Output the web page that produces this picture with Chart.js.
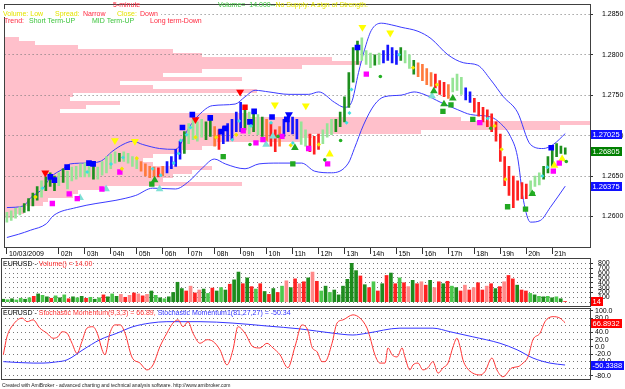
<!DOCTYPE html>
<html>
<head>
<meta charset="utf-8">
<script src="https://cdn.jsdelivr.net/npm/chart.js@4.4.1/dist/chart.umd.min.js"></script>
<style>
  html, body { margin: 0; padding: 0; background: #fff; }
  body { width: 625px; height: 389px; position: relative; overflow: hidden; font-family: "Liberation Sans", Arial, sans-serif; }
  .pane { position: absolute; left: 0; width: 625px; }
  .t { position: absolute; font-size: 7px; line-height: 8px; white-space: pre; }
  .yel { color: #e4e400; } .red { color: #ff2a40; } .grn { color: #3cc43c; }
</style>
</head>
<body>
<div class="pane" style="top:0;height:258px"><canvas id="price"></canvas></div>
<div class="pane" style="top:258px;height:50px"><canvas id="vol"></canvas></div>
<div class="pane" style="top:308px;height:81px"><canvas id="smi"></canvas></div>

<div class="t red" style="left:113px;top:1px">5-minute</div>
<div class="t grn" style="left:218px;top:1px">Volume=  14.000--<span class="yel">No Supply. A sign of Strength.</span></div>
<div style="position:absolute;left:0;top:9px;width:161px;height:8px;background:#fff"></div>
<div class="t yel" style="left:3px;top:9.5px">Volume: Low</div>
<div class="t yel" style="left:55px;top:9.5px">Spread:</div>
<div class="t red" style="left:83px;top:9.5px">Narrow</div>
<div class="t yel" style="left:117px;top:9.5px">Close:</div>
<div class="t red" style="left:140px;top:9.5px">Down</div>
<div class="t red" style="left:4px;top:16.5px">Trend:</div>
<div class="t grn" style="left:29px;top:16.5px">Short Term-UP</div>
<div class="t grn" style="left:92px;top:16.5px">MID Term-UP</div>
<div class="t red" style="left:150px;top:16.5px">Long term-Down</div>

<div class="t" style="left:3px;top:260px;color:#000">EURUSD - <span style="color:#ff3030">Volume() = 14.00</span></div>
<div class="t" style="left:3px;top:309px;color:#000">EURUSD - <span style="color:#ff3030">Stochastic Momentum(9,3,3) = 66.89, </span><span style="color:#3030ff">Stochastic Momentum1(81,27,27) = -50.34</span></div>
<div class="t" style="left:2px;top:381.5px;font-size:5px;line-height:6px;color:#222">Created with AmiBroker - advanced charting and technical analysis software. http://www.amibroker.com</div>

<script>
// time axis (hours from 00:00), 10 minute bars
const hourTicks = [0, 2, 3, 4, 5, 6, 7, 8, 9, 10, 11, 12, 13, 14, 15, 16, 17, 18, 19, 20, 21]
const hourLabels = ['10/03/2009', '02h', '03h', '04h', '05h', '06h', '07h', '08h', '09h', '10h', '11h',
  '12h', '13h', '14h', '15h', '16h', '17h', '18h', '19h', '20h', '21h']
const priceTicks = [1.26, 1.265, 1.27, 1.275, 1.28, 1.285]
const volTicks = [0, 100, 200, 300, 400, 500, 600, 700, 800]
const smiTicks = [-80, -60, -40, -20, 0, 20, 40, 60, 80, 100]

const barHigh = [
  1.2605, 1.2607, 1.2610, 1.2612, 1.2616, 1.2622, 1.2629, 1.2637, 1.2644, 1.2649,
  1.2654, 1.2650, 1.2654, 1.2659, 1.2656, 1.2661, 1.2662, 1.2665, 1.2666, 1.2663,
  1.2662, 1.2661, 1.2668, 1.2674, 1.2677, 1.2680, 1.2678, 1.2680, 1.2678, 1.2674,
  1.2673, 1.2668, 1.2665, 1.2662, 1.2661, 1.2660, 1.2662, 1.2668, 1.2674, 1.2683,
  1.2693, 1.2705, 1.2715, 1.2720, 1.2717, 1.2720, 1.2717, 1.2720, 1.2711, 1.2707,
  1.2711, 1.2715, 1.2720, 1.2729, 1.2741, 1.2732, 1.2729, 1.2727, 1.2726, 1.2723,
  1.2720, 1.2715, 1.2707, 1.2711, 1.2720, 1.2726, 1.2723, 1.2720, 1.2717, 1.2707,
  1.2702, 1.2699, 1.2702, 1.2707, 1.2715, 1.2720, 1.2720, 1.2729, 1.2748, 1.2778,
  1.2809, 1.2817, 1.2821, 1.2805, 1.2802, 1.2800, 1.2802, 1.2805, 1.2812, 1.2809,
  1.2805, 1.2809, 1.2805, 1.2800, 1.2793, 1.2790, 1.2788, 1.2783, 1.2778, 1.2776,
  1.2768, 1.2766, 1.2763, 1.2771, 1.2776, 1.2772, 1.2759, 1.2754, 1.2746, 1.2741,
  1.2735, 1.2732, 1.2727, 1.2717, 1.2702, 1.2674, 1.2662, 1.2650, 1.2644, 1.2642,
  1.2640, 1.2644, 1.2650, 1.2654, 1.2662, 1.2674, 1.2683, 1.2690, 1.2687, 1.2685
]
const barLow = [
  1.2593, 1.2595, 1.2598, 1.2602, 1.2605, 1.2607, 1.2613, 1.2620, 1.2624, 1.2632,
  1.2637, 1.2632, 1.2638, 1.2642, 1.2634, 1.2644, 1.2646, 1.2649, 1.2649, 1.2649,
  1.2646, 1.2646, 1.2651, 1.2654, 1.2659, 1.2666, 1.2668, 1.2668, 1.2666, 1.2662,
  1.2659, 1.2656, 1.2650, 1.2648, 1.2649, 1.2649, 1.2650, 1.2654, 1.2659, 1.2662,
  1.2671, 1.2678, 1.2690, 1.2695, 1.2693, 1.2698, 1.2695, 1.2699, 1.2687, 1.2683,
  1.2690, 1.2693, 1.2695, 1.2705, 1.2705, 1.2707, 1.2702, 1.2705, 1.2701, 1.2699,
  1.2693, 1.2687, 1.2680, 1.2687, 1.2699, 1.2705, 1.2702, 1.2696, 1.2689, 1.2687,
  1.2680, 1.2677, 1.2683, 1.2690, 1.2698, 1.2701, 1.2705, 1.2711, 1.2717, 1.2735,
  1.2766, 1.2788, 1.2793, 1.2788, 1.2784, 1.2787, 1.2788, 1.2790, 1.2793, 1.2790,
  1.2788, 1.2793, 1.2790, 1.2783, 1.2776, 1.2773, 1.2768, 1.2763, 1.2761, 1.2759,
  1.2751, 1.2748, 1.2746, 1.2754, 1.2756, 1.2751, 1.2744, 1.2741, 1.2729, 1.2724,
  1.2717, 1.2711, 1.2705, 1.2693, 1.2668, 1.2638, 1.2626, 1.2611, 1.2620, 1.2622,
  1.2622, 1.2626, 1.2637, 1.2639, 1.2646, 1.2654, 1.2662, 1.2674, 1.2678, 1.2677
]
// G dark green, g light green, o orange, r red, b blue
const barColor =
  'ggggGGGGgG' + 'GGgGgggggg' + 'GgggggGggg' + 'goooorobbb' + 'bGggggGGor' +
  'bbbbbGgGgG' + 'orrobbbbgg' + 'rrrgggGGGG' + 'GGgggGgbbb' + 'bGggGoooor' +
  'rrogggbbrr' + 'rrrrrrrrrr' + 'rgggGGGGGG'
const lastClose = 1.26805

const volume = [
  60, 50, 70, 45, 80, 60, 90, 120, 170, 140,
  110, 80, 130, 90, 150, 70, 110, 90, 120, 80,
  100, 60, 90, 150, 110, 170, 120, 160, 100, 140,
  190, 170, 130, 160, 230, 140, 90, 70, 110, 200,
  410, 280, 230, 330, 190, 250, 270, 180, 290, 230,
  300, 250, 370, 460, 620, 380, 500, 320, 270, 380,
  220, 160, 280, 200, 330, 440, 300, 480, 380, 420,
  500, 620, 430, 230, 330, 200, 250, 150, 330, 470,
  800, 650, 540, 360, 300, 420, 230, 380, 550, 600,
  380, 500, 400, 320, 450, 380, 420, 350, 450, 300,
  420, 380, 430, 330, 300, 230, 350, 250, 300, 400,
  250, 330, 380, 280, 320, 420, 550, 480, 350, 250,
  230, 180, 150, 120, 110, 120, 90, 110, 70, 14
]
const volColor =
  'GgGggGgrGg' + 'GrgGgrGgGr' + 'gGgrGgGprp' + 'rprpGgGgGG' + 'GGrprpGgrG' +
  'gGrGGrGrgr' + 'GrGrgpGrpr' + 'GprgGgGGGG' + 'GGrGrgrGrG' + 'rgrpGrprGp' +
  'rGrgGrprpr' + 'rprGrprrGr' + 'rgGgGgGgGr'

// bollinger bands [hour, price]
const upperBand = [[0, 1.2611], [0.64, 1.2613], [0.91, 1.2623], [1.40, 1.2635], [1.67, 1.2648], [2.17, 1.2659],
  [2.44, 1.2665], [3.05, 1.2666], [3.59, 1.2668], [4.08, 1.2681], [4.47, 1.2689], [4.85, 1.2693], [5.23, 1.2689],
  [5.88, 1.2684], [6.49, 1.2683], [7.03, 1.2711], [7.41, 1.2726], [7.91, 1.2737], [8.79, 1.2739], [9.17, 1.2748],
  [9.56, 1.2756], [10.09, 1.2754], [10.86, 1.2751], [11.62, 1.2751], [12.01, 1.2754], [12.62, 1.2741], [13.00, 1.2735],
  [13.27, 1.2741], [13.54, 1.2778], [13.77, 1.2806], [14.03, 1.2830], [14.42, 1.2839], [14.80, 1.2837], [15.18, 1.2834],
  [15.83, 1.2829], [16.33, 1.2820], [16.98, 1.2800], [17.59, 1.2790], [18.13, 1.2787], [18.63, 1.2769], [19.12, 1.2748],
  [19.66, 1.2729], [20.16, 1.2689], [20.65, 1.2684], [21.04, 1.2689], [21.50, 1.27025]]
const lowerBand = [[0, 1.2574], [0.45, 1.2578], [0.91, 1.2583], [1.52, 1.2591], [1.79, 1.2601], [2.67, 1.2611],
  [3.43, 1.2616], [4.20, 1.2620], [4.96, 1.2626], [5.61, 1.2635], [6.49, 1.2634], [7.03, 1.2644], [7.53, 1.2660],
  [7.99, 1.2671], [8.41, 1.2665], [9.17, 1.2659], [9.71, 1.2665], [10.47, 1.2666], [11.35, 1.2666], [11.85, 1.2656],
  [12.50, 1.2654], [13.15, 1.2666], [13.38, 1.2684], [13.73, 1.2713], [14.15, 1.2738], [14.53, 1.2748], [15.18, 1.2750],
  [15.68, 1.2754], [16.06, 1.2751], [16.71, 1.2741], [17.36, 1.2732], [17.86, 1.2726], [18.63, 1.2723], [19.01, 1.2715],
  [19.39, 1.2699], [19.66, 1.2674], [19.89, 1.2620], [20.16, 1.2593], [20.54, 1.2595], [20.92, 1.2611], [21.50, 1.26375]]

// volume at price profile: band centre price, band end (hours)
const profilePrice = [1.2820, 1.2815, 1.2810, 1.2805, 1.2800, 1.2795, 1.2790, 1.2785, 1.2780, 1.2775,
  1.2770, 1.2765, 1.2760, 1.2755, 1.2750, 1.2745, 1.2740, 1.2735, 1.2730, 1.2725,
  1.2720, 1.2715, 1.2710, 1.2705, 1.2700, 1.2695, 1.2690, 1.2685, 1.2680, 1.2675,
  1.2670, 1.2665, 1.2660, 1.2655, 1.2650, 1.2645, 1.2640, 1.2635, 1.2630, 1.2625,
  1.2620, 1.2615, 1.2610, 1.2605, 1.2600]
const profileEnd = [0.45, 1.10, 2.74, 6.38, 7.53, 12.50, 13.65, 11.35, 7.53, 6.00,
  9.06, 4.35, 5.61, 9.63, 2.55, 2.44, 4.35, 3.05, 2.06, 9.30,
  17.48, 22.45, 21.30, 15.95, 11.74, 11.35, 8.10, 7.53, 6.76, 5.61,
  5.23, 5.61, 7.91, 7.14, 6.38, 6.00, 9.06, 3.70, 2.74, 2.55,
  1.60, 1.40, 0.72, 0.64, 0.26]

// signal markers [hour, price]
const blueSquares = [[1.67, 1.2649], [1.83, 1.2645], [2.32, 1.2661], [3.16, 1.2666], [3.32, 1.2665], [6.76, 1.2710],
  [7.14, 1.2726], [7.83, 1.2722], [8.25, 1.2705], [8.41, 1.2709], [9.36, 1.2717], [9.52, 1.2730], [10.21, 1.2723],
  [10.78, 1.2720], [13.50, 1.2809], [20.96, 1.2685]]
const magentaSquares = [[1.75, 1.2616], [2.40, 1.2628], [2.71, 1.2622], [3.66, 1.2634], [4.35, 1.2655], [9.10, 1.2706],
  [9.59, 1.2691], [9.86, 1.2695], [10.59, 1.2699], [11.62, 1.2684], [12.35, 1.2665], [13.84, 1.2776], [18.21, 1.2716],
  [21.04, 1.2656], [21.27, 1.2666]]
const greenSquares = [[5.58, 1.2640], [8.33, 1.2674], [11.01, 1.2665], [16.79, 1.2730], [17.10, 1.2738], [17.94, 1.2720],
  [19.28, 1.2612], [19.97, 1.2609]]
const redSquares = [[9.17, 1.2735]]
const yellowDown = [[4.16, 1.2694], [4.93, 1.2693], [10.32, 1.2738], [11.51, 1.2737], [13.69, 1.2834], [14.76, 1.2827]]
const redDown = [[1.48, 1.2654], [7.26, 1.2720], [8.98, 1.2754]]
const blueDown = [[10.86, 1.2726]]
const greenUp = [[5.69, 1.2645], [11.09, 1.2685], [16.44, 1.2755], [16.83, 1.2739], [17.17, 1.2746], [20.23, 1.2628]]
const cyanUp = [[2.82, 1.2623], [3.82, 1.2634], [5.88, 1.2634], [9.98, 1.2689], [10.24, 1.2699], [16.37, 1.2749]]
const yellowUp = [[12.43, 1.2677], [21.08, 1.2663], [21.38, 1.2671]]
const cyanDots = [[1.37, 1.2635], [3.09, 1.2655], [4.01, 1.2665], [4.47, 1.2673], [5.61, 1.2659], [5.92, 1.2651],
  [6.42, 1.2666], [6.61, 1.2678], [6.69, 1.2694], [6.92, 1.2701], [7.07, 1.2710], [8.68, 1.2695], [8.94, 1.2718],
  [9.40, 1.2712], [10.17, 1.2716], [11.01, 1.2691], [13.08, 1.2716], [13.19, 1.2728], [13.27, 1.2757], [15.10, 1.2800],
  [18.51, 1.2721], [20.62, 1.2650], [20.81, 1.2661]]
const yellowDots = [[1.10, 1.2624], [4.43, 1.2659], [5.00, 1.2672], [7.26, 1.2698], [8.06, 1.2698], [8.83, 1.2701],
  [10.93, 1.2688], [12.01, 1.2689], [15.64, 1.2784], [16.56, 1.2763], [18.78, 1.2712], [19.05, 1.2683], [19.20, 1.2646]]
const greenDots = [[9.36, 1.2689], [10.44, 1.2699], [12.24, 1.2670], [12.85, 1.2694], [14.38, 1.2773], [18.63, 1.2709],
  [20.27, 1.2629], [21.54, 1.2668]]

// stochastic momentum [hour, value]
const smiFast = [[0, -22], [0.14, 28], [0.37, 61], [0.72, 80], [0.91, 70], [1.14, 75], [1.40, 52], [1.67, 38], [1.90, 24],
  [2.09, 28], [2.25, 42], [2.44, 38], [2.63, 10], [2.82, -18], [3.01, 15], [3.20, 52], [3.43, 56], [3.62, 33], [3.78, -8],
  [3.89, -22], [4.08, 38], [4.27, 61], [4.47, 61], [4.66, 38], [4.92, -28], [5.23, -45], [5.50, -64], [5.73, -50], [5.99, 0],
  [6.26, 38], [6.49, 66], [6.69, 75], [6.88, 56], [7.07, 70], [7.26, 38], [7.53, 10], [7.80, 20], [8.03, 15], [8.29, -8],
  [8.56, -50], [8.79, -8], [8.98, 56], [9.25, 38], [9.56, 0], [9.82, -3], [10.09, 10], [10.32, -3], [10.59, -22],
  [10.89, -58], [11.16, 0], [11.43, 61], [11.66, 45], [11.81, 0], [12.01, -14], [12.20, -41], [12.31, -41], [12.58, 10],
  [12.77, 66], [13.00, 75], [13.38, 89], [13.65, 80], [13.92, 52], [14.03, 28], [14.22, -22], [14.42, -45], [14.61, -45],
  [14.72, -3], [14.88, -22], [15.07, -28], [15.26, -3], [15.37, -28], [15.56, -64], [15.68, -50], [15.87, -45],
  [16.06, -64], [16.25, -58], [16.44, -41], [16.64, -73], [16.83, -58], [17.02, -45], [17.21, 0], [17.36, 24], [17.48, 0],
  [17.59, -36], [17.74, -58], [17.97, -73], [18.24, -78], [18.43, -69], [18.70, -31], [18.89, -64], [19.12, -83],
  [19.47, -58], [19.70, -55], [19.89, -45], [20.08, -28], [20.27, 20], [20.54, 38], [20.73, 70], [21.04, 84], [21.30, 80],
  [21.50, 66.8932]]
const smiSlow = [[0, -41], [1.14, -45], [1.52, -45], [2.0, -42], [2.44, -36], [3.05, -8], [3.70, 20], [4.35, 38],
  [4.96, 56], [5.61, 66], [6.26, 70], [7.53, 70], [8.79, 66], [10.09, 58], [11.35, 50], [12.62, 38], [13.38, 33],
  [13.92, 38], [15.18, 52], [16.44, 52], [17.10, 42], [17.97, 28], [19.01, 10], [19.66, -8], [20.27, -31], [20.92, -45],
  [21.50, -50.3388]]

const PRICE_COL = { G: '#1e8f1e', g: '#96e496', o: '#ff7a3c', r: '#ff2020', b: '#1414ff' }
const VOL_COL = { G: '#1e8c1e', g: '#4cc84c', r: '#ff2222', p: '#ff8a8a' }
const BAND = '#3b3bff'
const X_MIN = -0.088, X_MAX = 22.453

Chart.defaults.font.family = '"Liberation Sans", Arial, sans-serif'
Chart.defaults.font.size = 7
Chart.defaults.color = '#000'

const barTime = barHigh.map((_, i) => i / 6)
const pts = a => a.map(([x, y]) => ({ x, y }))

const marker = (list, style, color, r, rot = 0) => ({
  type: 'scatter', data: pts(list), pointStyle: style, pointRadius: r, pointRotation: rot,
  pointBackgroundColor: color, pointBorderColor: color, pointBorderWidth: 0, order: 1
})

const rightAxis = (min, max, ticks, fmt, pad) => ({
  position: 'right', min, max,
  afterBuildTicks: s => { s.ticks = ticks.map(v => ({ value: v })) },
  afterFit: s => { s.width = 35; s.paddingTop = 0; s.paddingBottom = 0 },
  ticks: { callback: fmt, padding: pad, autoSkip: false },
  grid: { color: '#777', tickLength: 3, tickColor: '#333' },
  border: { display: false, dash: [1, 3] }
})

const framePlugin = {
  id: 'frame',
  afterDraw(c) {
    const { ctx, chartArea: a } = c
    const L = Math.floor(a.left) + 0.5, R = Math.round(a.right) + 0.5
    const T = Math.floor(a.top) + 0.5, B = Math.round(a.bottom) - 0.5
    ctx.save()
    ctx.strokeStyle = '#404040'
    ctx.lineWidth = 1
    ctx.strokeRect(L, T, R - L, B - T)
    ctx.restore()
  }
}

const boxPlugin = list => ({
  id: 'boxes',
  afterDraw(c) {
    const { ctx, chartArea: a, scales: { y } } = c
    ctx.save()
    ctx.font = '7.5px "Liberation Sans", Arial, sans-serif'
    ctx.textBaseline = 'middle'
    list.forEach(b => {
      const py = Math.round(y.getPixelForValue(b.value))
      const w = Math.ceil(ctx.measureText(b.text).width) + 3
      ctx.fillStyle = b.bg
      ctx.fillRect(Math.round(a.right) + 1, py - 4, w, 9)
      ctx.fillStyle = '#fff'
      ctx.fillText(b.text, Math.round(a.right) + 2.5, py + 0.5)
    })
    ctx.restore()
  }
})

const profilePlugin = {
  id: 'profile',
  beforeDraw(c) {
    const { ctx, chartArea: a, scales: { x, y } } = c
    ctx.save()
    ctx.beginPath()
    ctx.rect(a.left, a.top, a.width, a.height)
    ctx.clip()
    ctx.fillStyle = '#ffc0cb'
    profilePrice.forEach((p, i) => {
      const y0 = Math.round(y.getPixelForValue(p + 0.00025))
      const y1 = Math.round(y.getPixelForValue(p - 0.00025))
      const x1 = Math.round(x.getPixelForValue(profileEnd[i]))
      ctx.fillRect(a.left, y0, x1 - a.left, y1 - y0)
    })
    ctx.restore()
  }
}

const base = {
  responsive: true, maintainAspectRatio: false, animation: false, devicePixelRatio: 1, events: [],
  plugins: { legend: { display: false }, tooltip: { enabled: false } }
}

new Chart(document.getElementById('price'), {
  type: 'bar',
  data: {
    datasets: [
      marker(cyanDots, 'rectRot', '#3fe0e0', 2),
      marker(yellowDots, 'rectRot', '#f2e600', 2.2),
      marker(greenDots, 'circle', '#22b022', 1.8),
      marker(blueSquares, 'rect', '#0000ff', 4),
      marker(magentaSquares, 'rect', '#ff00ff', 3.8),
      marker(greenSquares, 'rect', '#22a822', 3.8),
      marker(redSquares, 'rect', '#ff0000', 3.8),
      marker(yellowDown, 'triangle', '#ffff00', 4.6, 180),
      marker(redDown, 'triangle', '#ff0000', 4.6, 180),
      marker(blueDown, 'triangle', '#0000ff', 4.6, 180),
      marker(greenUp, 'triangle', '#22a822', 4.4),
      marker(cyanUp, 'triangle', '#7fe0d6', 4.4),
      marker(yellowUp, 'triangle', '#ffff00', 4.6),
      {
        type: 'bar',
        data: barTime.map((x, i) => ({ x, y: [barLow[i], barHigh[i]] })),
        backgroundColor: barColor.split('').map(c => PRICE_COL[c]),
        barThickness: 2, order: 2
      },
      { type: 'line', data: pts(upperBand), borderColor: BAND, borderWidth: 1, pointRadius: 0, cubicInterpolationMode: 'monotone', order: 3 },
      { type: 'line', data: pts(lowerBand), borderColor: BAND, borderWidth: 1, pointRadius: 0, cubicInterpolationMode: 'monotone', order: 3 }
    ]
  },
  options: {
    ...base,
    layout: { padding: { left: 1, top: 1, right: 0, bottom: 0 } },
    scales: {
      x: {
        type: 'linear', min: X_MIN, max: X_MAX, offset: false,
        afterBuildTicks: s => { s.ticks = hourTicks.map(v => ({ value: v })) },
        afterFit: s => { s.height = 10; s.paddingLeft = 0; s.paddingRight = 0 },
        ticks: { callback: (v, i) => hourLabels[i], align: 'start', labelOffset: 2, padding: -4, autoSkip: false, maxRotation: 0 },
        grid: { drawOnChartArea: false, tickLength: 6, tickColor: '#333', offset: false },
        border: { display: false }
      },
      y: rightAxis(1.2561, 1.2862, priceTicks, v => v.toFixed(4), 9)
    }
  },
  plugins: [profilePlugin, framePlugin, boxPlugin([
    { value: upperBand[upperBand.length - 1][1], text: '1.27025', bg: '#1010ff' },
    { value: lastClose, text: '1.26805', bg: '#008000' },
    { value: lowerBand[lowerBand.length - 1][1], text: '1.26375', bg: '#1010ff' }
  ])]
})

new Chart(document.getElementById('vol'), {
  type: 'bar',
  data: {
    datasets: [{
      data: barTime.map((x, i) => ({ x, y: volume[i] })),
      backgroundColor: volColor.split('').map(c => VOL_COL[c]),
      barThickness: 3
    }]
  },
  options: {
    ...base,
    layout: { padding: { left: 1, top: 0, right: 0, bottom: 1 } },
    scales: {
      x: { type: 'linear', min: X_MIN, max: X_MAX, offset: false, display: false },
      y: rightAxis(-100, 910, volTicks, v => String(v), 5)
    }
  },
  plugins: [framePlugin, boxPlugin([
    { value: volume[volume.length - 1], text: String(volume[volume.length - 1]), bg: '#ff0000' }
  ])]
})

new Chart(document.getElementById('smi'), {
  type: 'line',
  data: {
    datasets: [
      { data: pts(smiFast), borderColor: '#ff3535', borderWidth: 1, pointRadius: 0, cubicInterpolationMode: 'monotone' },
      { data: pts(smiSlow), borderColor: '#3535ff', borderWidth: 1, pointRadius: 0, cubicInterpolationMode: 'monotone' }
    ]
  },
  options: {
    ...base,
    layout: { padding: { left: 1, top: 0, right: 0, bottom: 9 } },
    scales: {
      x: { type: 'linear', min: X_MIN, max: X_MAX, display: false },
      y: rightAxis(-92, 108, smiTicks, v => v.toFixed(1), 2)
    }
  },
  plugins: [framePlugin, boxPlugin([
    { value: smiFast[smiFast.length - 1][1], text: '66.8932', bg: '#ff0000' },
    { value: smiSlow[smiSlow.length - 1][1], text: '-50.3388', bg: '#1010ff' }
  ])]
})
</script>
</body>
</html>
